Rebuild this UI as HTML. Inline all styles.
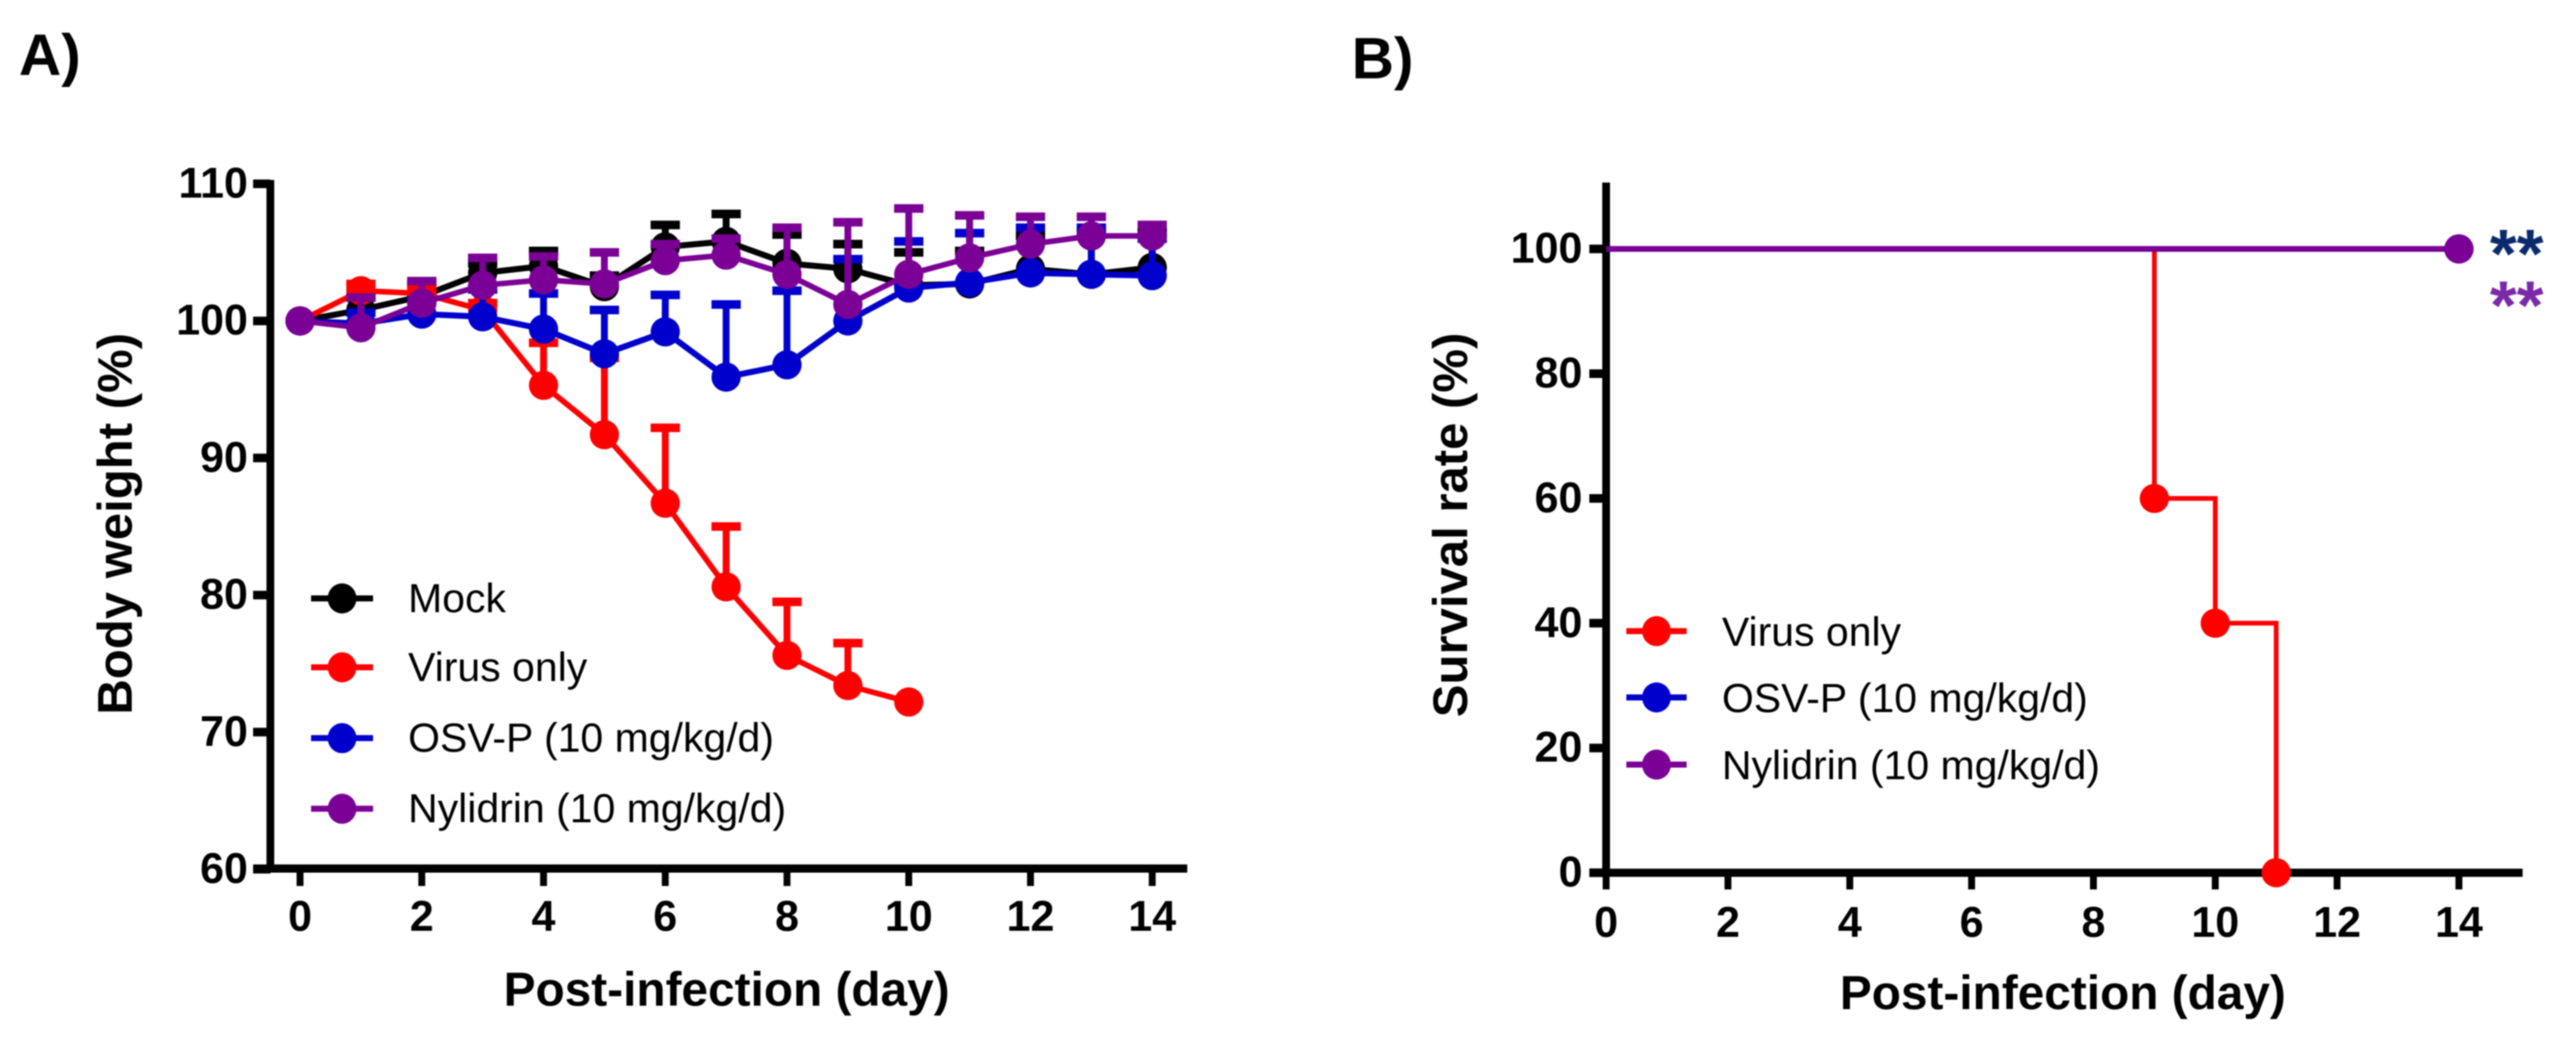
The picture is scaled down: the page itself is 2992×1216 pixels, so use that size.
<!DOCTYPE html>
<html lang="en">
<head>
<meta charset="utf-8">
<title>Body weight and survival rate after infection</title>
<style>
  html, body { margin: 0; padding: 0; background: #fff; }
  body { width: 2992px; height: 1216px; overflow: hidden; }
  svg { display: block; filter: blur(0.9px); }
  text { font-family: "Liberation Sans", Arial, sans-serif; fill: #000; }
  .panel { font-size: 68px; font-weight: bold; }
  .title { font-size: 55.5px; font-weight: bold; }
  .ytitle { font-size: 57px; font-weight: bold; }
  .tick { font-size: 50px; font-weight: bold; }
  .legend { font-size: 47.6px; }
  .stars { font-size: 80px; font-weight: bold; }
</style>
</head>
<body>
<svg id="figure" width="2992" height="1216" viewBox="0 0 2992 1216" xmlns="http://www.w3.org/2000/svg">
  <rect x="0" y="0" width="2992" height="1216" fill="#ffffff"/>

  <text class="panel" x="22" y="87">A)</text>
  <text class="panel" x="1570" y="91">B)</text>

  <g id="panelA">
    <text class="ytitle" transform="translate(153 830) rotate(-90)">Body weight (%)</text>
    <text class="title" x="585" y="1168">Post-infection (day)</text>
    <text class="legend" x="474" y="711">Mock</text>
    <text class="legend" x="474" y="791">Virus only</text>
    <text class="legend" x="474" y="873">OSV-P (10 mg/kg/d)</text>
    <text class="legend" x="474" y="955">Nylidrin (10 mg/kg/d)</text>
  </g>

  <g id="panelB">
    <text class="ytitle" transform="translate(1704 833) rotate(-90)">Survival rate (%)</text>
    <text class="title" x="2137" y="1172">Post-infection (day)</text>
    <text class="legend" x="2000" y="750">Virus only</text>
    <text class="legend" x="2000" y="827">OSV-P (10 mg/kg/d)</text>
    <text class="legend" x="2000" y="905">Nylidrin (10 mg/kg/d)</text>
    <text class="stars" x="2892" y="322" style="fill:#0b2a6e">**</text>
    <text class="stars" x="2892" y="382" style="fill:#7a2aa8">**</text>
  </g>
</svg>

<script>
/* ---------- Panel A data ---------- */
const weightDays = [0,1,2,3,4,5,6,7,8,9,10,11,12,13,14];
const mockValues = [100,100.8,101.8,103.5,104,102.5,105.4,105.8,104.2,103.8,102.6,102.7,103.8,103.4,103.9];
const mockErrors = [0,0.9,0.9,0.7,1.1,0.8,1.6,2.0,2.1,1.8,2.4,2.4,2.4,3.1,2.6];
const virusValues = [100,102.2,102,100.8,95.3,91.7,86.7,80.6,75.6,73.4,72.2];
const virusErrors = [0,0.5,0.5,0.5,3.1,5.6,5.5,4.4,3.9,3.1,0];
const osvValues = [100,99.8,100.5,100.3,99.4,97.6,99.2,95.9,96.8,100,102.4,102.8,103.5,103.4,103.3];
const osvErrors = [0,0.8,1,2,2.6,3.2,2.7,5.3,5.4,4.5,3.4,3.6,3.3,3.4,2.7];
const nylidrinValues = [100,99.5,101.3,102.6,103,102.7,104.4,104.8,103.4,101.2,103.4,104.6,105.6,106.2,106.2];
const nylidrinErrors = [0,2.2,1.6,2,1.7,2.3,1.2,1.2,3.4,6,4.8,3.1,2,1.4,0.8];
const weightYTicks = [60,70,80,90,100,110];
const dayTicks = [0,2,4,6,8,10,12,14];

/* ---------- Panel B data ---------- */
const survivalYTicks = [0,20,40,60,80,100];
const virusSurvivalDays = [0,9,10,11];
const virusSurvivalValues = [100,60,40,0];
const virusSurvivalMarkerDays = [9,10,11];
const virusSurvivalMarkerValues = [60,40,0];
const osvSurvivalDays = [0,14];
const osvSurvivalValues = [100,100];
const nylidrinSurvivalDays = [0,14];
const nylidrinSurvivalValues = [100,100];

const RED = '#ff0000', BLUE = '#0000cc', PURPLE = '#7b0095', BLACK = '#000000';
const NS = 'http://www.w3.org/2000/svg';

function mk(parent, tag, attrs, text) {
  const el = document.createElementNS(NS, tag);
  for (const k in attrs) el.setAttribute(k, attrs[k]);
  if (text !== undefined) el.textContent = text;
  parent.appendChild(el);
  return el;
}

/* axis functions */
function xA(d) { return 348.5 + d * 70.7; }
function yA(v) { return 1009.5 - (v - 60) * 15.92; }
function xB(d) { return 1865.5 + d * 70.75; }
function yB(v) { return 1013.6 - v * 7.245; }

const panelA = document.getElementById('panelA');
const panelB = document.getElementById('panelB');

/* ---------- Panel A axes ---------- */
const aYAxis = mk(panelA, 'line', {x1:314, x2:314, y1:209, y2:yA(60)+4, stroke:BLACK, 'stroke-width':9});


const aXAxis = mk(panelA, 'line', {x1:294, x2:1379, y1:1008.7, y2:1008.7, stroke:BLACK, 'stroke-width':9.5});



weightYTicks.forEach(function (v) {
  const t = mk(panelA, 'line', {x1:294, x2:314, y1:yA(v), y2:yA(v), stroke:BLACK, 'stroke-width':10});
  
  
  const l = mk(panelA, 'text', {class:'tick', x:288, y:yA(v)+16, 'text-anchor':'end'}, String(v));
  
  
});
dayTicks.forEach(function (d) {
  const t = mk(panelA, 'line', {x1:xA(d), x2:xA(d), y1:1008.7, y2:1029, stroke:BLACK, 'stroke-width':8});
  
  
  const l = mk(panelA, 'text', {class:'tick', x:xA(d), y:1081, 'text-anchor':'middle'}, String(d));
  
  
});

/* ---------- Panel A series ---------- */
function drawWeightSeries(key, color, values, errors, width) {
  const g = mk(panelA, 'g', {});
  
  
  values.forEach(function (v, i) {
    if (errors[i] <= 0) return;
    const x = xA(weightDays[i]);
    const top = yA(v + errors[i]);
    const stem = mk(g, 'line', {x1:x, x2:x, y1:yA(v), y2:top, stroke:color, 'stroke-width':8});
    
    
    const cap = mk(g, 'line', {x1:x-17, x2:x+17, y1:top, y2:top, stroke:color, 'stroke-width':10});
    
    
  });
  const pts = values.map(function (v, i) { return xA(weightDays[i]) + ',' + yA(v); }).join(' ');
  const line = mk(g, 'polyline', {points:pts, fill:'none', stroke:color, 'stroke-width':width, 'stroke-linejoin':'round'});
  
  
  values.forEach(function (v, i) {
    const c = mk(g, 'circle', {cx:xA(weightDays[i]), cy:yA(v), r:17, fill:color});
    
    
  });
}
drawWeightSeries('mock', BLACK, mockValues, mockErrors, 7);
drawWeightSeries('virus-only', RED, virusValues, virusErrors, 6.5);
drawWeightSeries('osv-p', BLUE, osvValues, osvErrors, 7);
drawWeightSeries('nylidrin', PURPLE, nylidrinValues, nylidrinErrors, 6.5);

/* ---------- Legends ---------- */
function legendKey(parent, key, color, cx, cy, half) {
  const ln = mk(parent, 'line', {x1:cx-half, x2:cx+half, y1:cy, y2:cy, stroke:color, 'stroke-width':7});
  
  
  const c = mk(parent, 'ellipse', {cx:cx, cy:cy, rx:16.7, ry:17.5, fill:color});
  
  
}
legendKey(panelA, 'mock', BLACK, 397.3, 695, 36);
legendKey(panelA, 'virus-only', RED, 397.3, 775, 36);
legendKey(panelA, 'osv-p', BLUE, 397.3, 857.3, 36);
legendKey(panelA, 'nylidrin', PURPLE, 397.3, 939.3, 36);
legendKey(panelB, 'virus-only', RED, 1924, 733, 35);
legendKey(panelB, 'osv-p', BLUE, 1924, 810, 35);
legendKey(panelB, 'nylidrin', PURPLE, 1924, 888, 35);

/* ---------- Panel B axes ---------- */
const bYAxis = mk(panelB, 'line', {x1:1865.5, x2:1865.5, y1:212, y2:yB(0)+4, stroke:BLACK, 'stroke-width':9});


const bXAxis = mk(panelB, 'line', {x1:1846, x2:2930, y1:yB(0), y2:yB(0), stroke:BLACK, 'stroke-width':9.5});



survivalYTicks.forEach(function (v) {
  const t = mk(panelB, 'line', {x1:1846, x2:1865.5, y1:yB(v), y2:yB(v), stroke:BLACK, 'stroke-width':10});
  
  
  const l = mk(panelB, 'text', {class:'tick', x:1838, y:yB(v)+16, 'text-anchor':'end'}, String(v));
  
  
});
dayTicks.forEach(function (d) {
  const t = mk(panelB, 'line', {x1:xB(d), x2:xB(d), y1:yB(0), y2:1033, stroke:BLACK, 'stroke-width':8});
  
  
  const l = mk(panelB, 'text', {class:'tick', x:xB(d), y:1088, 'text-anchor':'middle'}, String(d));
  
  
});

/* ---------- Panel B series ---------- */
function stepPath(days, values) {
  let p = 'M' + xB(days[0]) + ' ' + yB(values[0]);
  for (let i = 1; i < days.length; i++) {
    p += ' H' + xB(days[i]) + ' V' + yB(values[i]);
  }
  return p;
}
const virusStep = mk(panelB, 'path', {d:stepPath(virusSurvivalDays, virusSurvivalValues), fill:'none', stroke:RED, 'stroke-width':5.5});


virusSurvivalMarkerDays.forEach(function (d, i) {
  const c = mk(panelB, 'circle', {cx:xB(d), cy:yB(virusSurvivalMarkerValues[i]), r:17, fill:RED});
  
  
});
const osvStep = mk(panelB, 'path', {d:stepPath(osvSurvivalDays, osvSurvivalValues), fill:'none', stroke:BLUE, 'stroke-width':6.5});


const osvEnd = mk(panelB, 'circle', {cx:xB(osvSurvivalDays[1]), cy:yB(osvSurvivalValues[1]), r:17, fill:BLUE});


const nylStep = mk(panelB, 'path', {d:stepPath(nylidrinSurvivalDays, nylidrinSurvivalValues), fill:'none', stroke:PURPLE, 'stroke-width':6.5});


const nylEnd = mk(panelB, 'circle', {cx:xB(nylidrinSurvivalDays[1]), cy:yB(nylidrinSurvivalValues[1]), r:17, fill:PURPLE});


</script>
</body>
</html>
